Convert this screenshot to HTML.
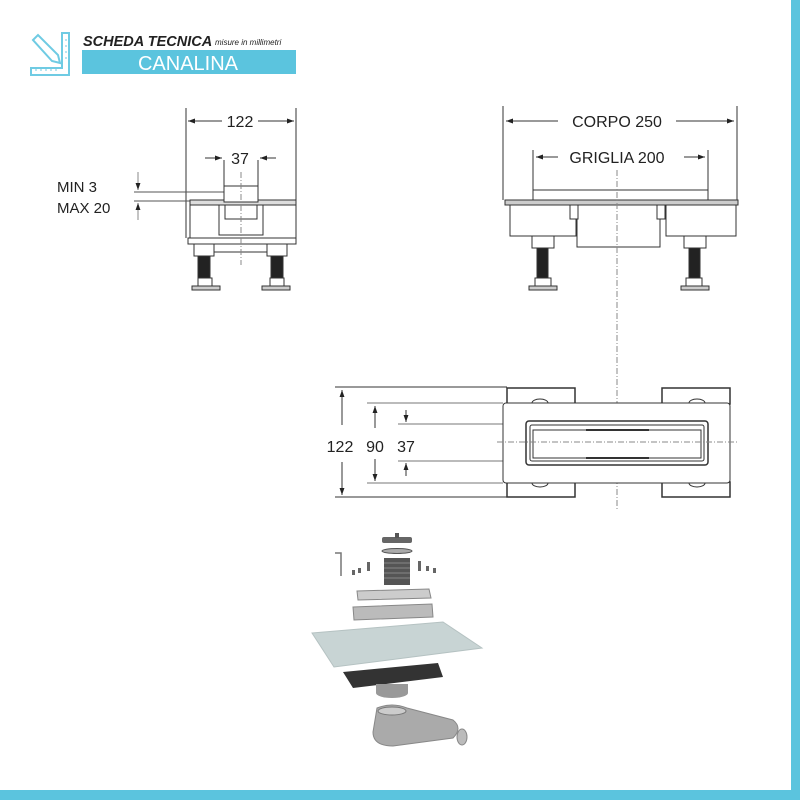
<!DOCTYPE html>
<html><head><meta charset="utf-8"><style>
html,body{margin:0;padding:0;background:#fff;}
svg{display:block;}
text{font-family:"Liberation Sans",Arial,sans-serif;}
</style></head><body>
<svg width="800" height="800" viewBox="0 0 800 800" xmlns="http://www.w3.org/2000/svg">
<defs>
<marker id="a" viewBox="0 0 10 10" refX="10" refY="5" markerWidth="7" markerHeight="7" orient="auto-start-reverse"><path d="M0,1.5 L10,5 L0,8.5 Z" fill="#222"/></marker>
</defs>
<rect width="800" height="800" fill="#fff"/>
<!-- frame border -->
<rect x="0" y="790" width="800" height="10" fill="#5bc4de"/>
<rect x="791" y="0" width="9" height="800" fill="#5bc4de"/>

<!-- header icon -->
<g stroke="#6fcbe3" stroke-width="2" fill="none">
<path d="M62,33 h7 v42 h-38 v-7 h31 z"/>
<path d="M33,40 l5,-5 l20,20 l2,8 l-8,-2 z"/>
<path d="M36,71 v-2 M41,71 v-2 M46,71 v-2 M51,71 v-2 M56,71 v-2 M65,40 h2 M65,46 h2 M65,52 h2 M65,58 h2" stroke-width="1"/>
</g>
<text x="83" y="46" font-size="14.5" font-weight="bold" font-style="italic" fill="#222">SCHEDA TECNICA</text>
<text x="215" y="45" font-size="8" font-style="italic" fill="#222">misure in millimetri</text>
<rect x="82" y="50" width="214" height="24" fill="#5bc4de"/>
<text x="188" y="70" font-size="20" fill="#fff" text-anchor="middle">CANALINA</text>

<!-- LEFT FRONT VIEW -->
<g stroke="#333" stroke-width="1" fill="none">
<line x1="186" y1="108" x2="186" y2="238"/>
<line x1="296" y1="108" x2="296" y2="238"/>
<line x1="188" y1="121" x2="222" y2="121" marker-start="url(#a)"/>
<line x1="258" y1="121" x2="294" y2="121" marker-end="url(#a)"/>
<line x1="224" y1="160" x2="224" y2="190"/>
<line x1="258" y1="160" x2="258" y2="190"/>
<line x1="205" y1="158" x2="222" y2="158" marker-end="url(#a)"/>
<line x1="276" y1="158" x2="260" y2="158" marker-end="url(#a)"/>
<line x1="134" y1="192" x2="224" y2="192" stroke="#555"/>
<line x1="134" y1="201" x2="196" y2="201" stroke="#555"/>
<line x1="138" y1="172" x2="138" y2="190" marker-end="url(#a)" stroke="#888"/>
<line x1="138" y1="220" x2="138" y2="203" marker-end="url(#a)" stroke="#888"/>
<rect x="190" y="200" width="106" height="5" fill="#ddd"/>
<rect x="190" y="205" width="106" height="33" fill="#fff"/>
<rect x="224" y="186" width="34" height="16" fill="#fff"/>
<rect x="219" y="205" width="44" height="30" fill="#fff"/>
<rect x="225" y="205" width="32" height="14"/>
<rect x="188" y="238" width="108" height="6" fill="#fff"/>
<rect x="194" y="244" width="20" height="12"/>
<rect x="267" y="244" width="20" height="12"/>
<line x1="214" y1="252" x2="267" y2="252"/>
<rect x="198" y="256" width="12" height="24" fill="#222"/>
<rect x="271" y="256" width="12" height="24" fill="#222"/>
<rect x="198" y="278" width="14" height="8" fill="#fff"/>
<rect x="270" y="278" width="14" height="8" fill="#fff"/>
<rect x="192" y="286" width="28" height="4" fill="#ccc"/>
<rect x="262" y="286" width="28" height="4" fill="#ccc"/>
<line x1="241" y1="172" x2="241" y2="265" stroke-dasharray="6,2,1,2" stroke="#888"/>
</g>
<text x="240" y="127" font-size="16" text-anchor="middle" fill="#222">122</text>
<text x="240" y="164" font-size="16" text-anchor="middle" fill="#222">37</text>
<text x="57" y="192" font-size="15" fill="#222">MIN 3</text>
<text x="57" y="213" font-size="15" fill="#222">MAX 20</text>

<!-- RIGHT FRONT VIEW -->
<g stroke="#333" stroke-width="1" fill="none">
<line x1="503" y1="106" x2="503" y2="200"/>
<line x1="737" y1="106" x2="737" y2="200"/>
<line x1="558" y1="121" x2="506" y2="121" marker-end="url(#a)"/>
<line x1="676" y1="121" x2="734" y2="121" marker-end="url(#a)"/>
<line x1="533" y1="150" x2="533" y2="192"/>
<line x1="708" y1="150" x2="708" y2="192"/>
<line x1="558" y1="157" x2="536" y2="157" marker-end="url(#a)"/>
<line x1="684" y1="157" x2="705" y2="157" marker-end="url(#a)"/>
<rect x="533" y="190" width="175" height="10" fill="#fff"/>
<rect x="505" y="200" width="233" height="5" fill="#ccc"/>
<rect x="510" y="205" width="66" height="31" fill="#fff"/>
<rect x="666" y="205" width="70" height="31" fill="#fff"/>
<rect x="577" y="205" width="83" height="42" fill="#fff"/>
<rect x="570" y="205" width="8" height="14" fill="#fff"/>
<rect x="657" y="205" width="8" height="14" fill="#fff"/>
<rect x="532" y="236" width="22" height="12"/>
<rect x="684" y="236" width="22" height="12"/>
<rect x="537" y="248" width="11" height="30" fill="#222"/>
<rect x="689" y="248" width="11" height="30" fill="#222"/>
<rect x="535" y="278" width="16" height="8" fill="#fff"/>
<rect x="686" y="278" width="16" height="8" fill="#fff"/>
<rect x="529" y="286" width="28" height="4" fill="#ccc"/>
<rect x="681" y="286" width="28" height="4" fill="#ccc"/>
<line x1="617" y1="170" x2="617" y2="510" stroke-dasharray="6,2,1,2" stroke="#888"/>
</g>
<text x="617" y="127" font-size="16" text-anchor="middle" fill="#222">CORPO 250</text>
<text x="617" y="163" font-size="16" text-anchor="middle" fill="#222">GRIGLIA 200</text>

<!-- TOP VIEW -->
<g stroke="#333" stroke-width="1" fill="none">
<line x1="335" y1="387" x2="507" y2="387"/>
<line x1="335" y1="497" x2="507" y2="497"/>
<line x1="367" y1="403" x2="503" y2="403" stroke="#777"/>
<line x1="367" y1="483" x2="503" y2="483" stroke="#777"/>
<line x1="398" y1="424" x2="520" y2="424" stroke="#777"/>
<line x1="398" y1="461" x2="520" y2="461" stroke="#777"/>
<line x1="342" y1="425" x2="342" y2="390" marker-end="url(#a)"/>
<line x1="342" y1="462" x2="342" y2="495" marker-end="url(#a)"/>
<line x1="375" y1="428" x2="375" y2="406" marker-end="url(#a)"/>
<line x1="375" y1="459" x2="375" y2="481" marker-end="url(#a)"/>
<line x1="406" y1="410" x2="406" y2="422" marker-end="url(#a)"/>
<line x1="406" y1="476" x2="406" y2="463" marker-end="url(#a)"/>
<rect x="507" y="388" width="68" height="16" stroke-width="1.5"/>
<rect x="662" y="388" width="68" height="16" stroke-width="1.5"/>
<rect x="507" y="482" width="68" height="15" stroke-width="1.5"/>
<rect x="662" y="482" width="68" height="15" stroke-width="1.5"/>
<ellipse cx="540" cy="403" rx="8" ry="4"/>
<ellipse cx="697" cy="403" rx="8" ry="4"/>
<ellipse cx="540" cy="483" rx="8" ry="4"/>
<ellipse cx="697" cy="483" rx="8" ry="4"/>
<rect x="503" y="403" width="227" height="80" rx="3" fill="#fff"/>
<rect x="526" y="421" width="182" height="44" rx="3" stroke-width="1.5"/>
<rect x="530" y="425" width="174" height="36" rx="2"/>
<rect x="533" y="430" width="168" height="28"/>
<line x1="586" y1="430" x2="649" y2="430" stroke-width="2"/>
<line x1="586" y1="458" x2="649" y2="458" stroke-width="2"/>
<line x1="497" y1="442" x2="738" y2="442" stroke-dasharray="6,2,1,2" stroke="#888"/>
</g>
<rect x="325" y="434" width="68" height="20" fill="#fff"/>
<text x="340" y="452" font-size="16" text-anchor="middle" fill="#222">122</text>
<text x="375" y="452" font-size="16" text-anchor="middle" fill="#222">90</text>
<text x="406" y="452" font-size="16" text-anchor="middle" fill="#222">37</text>

<!-- EXPLODED VIEW -->
<g>
<rect x="382" y="537" width="30" height="6" rx="2" fill="#666"/>
<rect x="395" y="533" width="4" height="5" fill="#555"/>
<ellipse cx="397" cy="551" rx="15" ry="2.5" fill="#aaa" stroke="#555"/>
<rect x="384" y="558" width="26" height="27" fill="#555"/>
<g stroke="#888" stroke-width="1"><line x1="384" y1="563" x2="410" y2="563"/><line x1="384" y1="568" x2="410" y2="568"/><line x1="384" y1="573" x2="410" y2="573"/><line x1="384" y1="578" x2="410" y2="578"/></g>
<path d="M335,553 h6 v23" stroke="#777" stroke-width="1.5" fill="none"/>
<g fill="#666"><rect x="352" y="570" width="3" height="5"/><rect x="358" y="568" width="3" height="5"/><rect x="367" y="562" width="3" height="9"/><rect x="418" y="561" width="3" height="10"/><rect x="426" y="566" width="3" height="5"/><rect x="433" y="568" width="3" height="5"/></g>
<polygon points="357,591 429,589 431,598 358,600" fill="#ccc" stroke="#888"/>
<polygon points="353,607 432,604 433,617 354,620" fill="#bbb" stroke="#888"/>
<polygon points="312,633 443,622 482,648 334,667" fill="#c8d4d4" stroke="#b5c2c2"/>
<polygon points="343,672 438,663 443,677 353,688" fill="#333"/>
<ellipse cx="392" cy="693" rx="16" ry="5" fill="#999"/>
<rect x="376" y="684" width="32" height="9" fill="#999"/>
<path d="M377,708 q15,-6 30,0 l46,12 q10,8 0,18 l-60,8 q-20,0 -20,-14 z" fill="#aaa" stroke="#888"/>
<ellipse cx="392" cy="711" rx="14" ry="4" fill="#ccc" stroke="#777"/>
<ellipse cx="462" cy="737" rx="5" ry="8" fill="#bbb" stroke="#888"/>
</g>
</svg>
</body></html>
